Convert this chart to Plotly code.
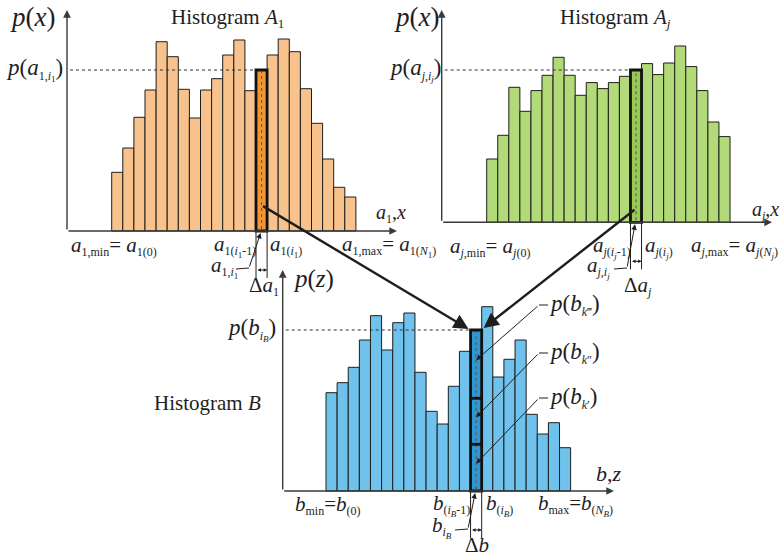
import plotly.graph_objects as go

W, H = 781, 556

# ---------------- data ----------------
bins = list(range(1, 23))
a1_values = [58.7, 83, 113.7, 141, 189.3, 174.3, 141.7, 113, 141, 152.3, 176,
             191, 140.3, 161, 176, 192, 179.3, 142.3, 107.7, 72, 43.7, 34]
aj_values = [63.3, 87, 135, 111, 131.7, 147, 165, 147, 127, 139.7, 133.7,
             139.7, 146, 152.3, 158.7, 147.7, 159.3, 176.3, 155.7, 131.7, 100.3, 85.7]
b_values = [98.3, 108.3, 123.7, 151, 175.3, 141, 168.3, 178, 118.7, 79.7, 67,
            104.7, 139.7, 161, 184.3, 114, 131.7, 151, 76.7, 57, 68.3, 43.3]
sel_bin = 14                      # highlighted bin (i1, ij, iB)
b_split_levels = [46.7, 92.7]     # partition of the highlighted B bin (k', k'', k''')

a1_color, a1_sel_color = "#F8C28C", "#F09634"
aj_color, aj_sel_color = "#B3DA78", "#98CB55"
b_color, b_sel_color = "#6FC2EC", "#2C97D3"

FONT = "Liberation Serif, Times New Roman, serif"
INK = "#1e1e1e"
AX = "#3a3a3a"

# ---------------- panel geometry (pixels) ----------------
G = {
    "A1": dict(L=111.7, bw=11.1, base=231.0, ox=67.0, ytop=10.0, xend=397.0, n=""),
    "Aj": dict(L=486.7, bw=11.06, base=222.3, ox=441.7, ytop=10.0, xend=772.0, n="2"),
    "B": dict(L=326.0, bw=11.12, base=491.0, ox=282.7, ytop=270.0, xend=614.0, n="3"),
}


def dx(g, px):
    return 0.5 + (px - g["L"]) / g["bw"]


def px_of(g, x):
    return g["L"] + (x - 0.5) * g["bw"]


def py_of(g, y):
    return g["base"] - y


def P(px, py):
    return px / W, 1 - py / H


fig = go.Figure()
shapes, annos = [], []

panels = [("A1", a1_values, a1_color, a1_sel_color),
          ("Aj", aj_values, aj_color, aj_sel_color),
          ("B", b_values, b_color, b_sel_color)]

layout_axes = {}
for key, vals, col, scol in panels:
    g = G[key]
    n = g["n"]
    xa, ya = "x" + n, "y" + n
    fig.add_trace(go.Bar(
        x=bins, y=vals, width=1,
        marker=dict(color=[scol if b == sel_bin else col for b in bins],
                    line=dict(color=INK, width=1)),
        xaxis=xa, yaxis=ya, showlegend=False, hoverinfo="skip"))
    layout_axes["xaxis" + n] = dict(domain=[0, 1], range=[dx(g, 0), dx(g, W)],
                                    visible=False, anchor=ya, fixedrange=True)
    layout_axes["yaxis" + n] = dict(domain=[0, 1], range=[g["base"] - H, g["base"]],
                                    visible=False, anchor=xa, fixedrange=True)
    sv = vals[bins.index(sel_bin)]
    # highlighted bar outline
    shapes.append(dict(type="rect", xref=xa, yref=ya, x0=sel_bin - 0.5, x1=sel_bin + 0.5,
                       y0=0, y1=sv, line=dict(color="#111", width=2.8)))
    # dotted centre line in highlighted bar
    shapes.append(dict(type="line", xref=xa, yref=ya, x0=sel_bin, x1=sel_bin,
                       y0=2, y1=sv - 2, line=dict(color="#555", width=1, dash="dot")))
    # dotted level line
    shapes.append(dict(type="line", xref=xa, yref=ya, x0=dx(g, g["ox"] + 3), x1=sel_bin - 0.5,
                       y0=sv, y1=sv, line=dict(color="#333", width=1, dash="dot")))
    # dimension extension lines (bin width)
    for e in (sel_bin - 0.5, sel_bin + 0.5):
        shapes.append(dict(type="line", xref=xa, yref=ya, x0=e, x1=e,
                           y0=0, y1=-47, line=dict(color=INK, width=1)))
    # axes with arrowheads
    ox, base = g["ox"], g["base"]
    for (hx, hy, tx, ty) in [(ox, g["ytop"], ox, base), (g["xend"], base, ox, base)]:
        x1, y1 = P(hx, hy)
        annos.append(dict(x=x1, y=y1, xref="paper", yref="paper", axref="pixel", ayref="pixel",
                          ax=tx - hx, ay=ty - hy, text="", showarrow=True, arrowhead=2,
                          arrowsize=1.1, arrowwidth=1.4, arrowcolor=AX, standoff=0))
    # double-headed bin width arrow
    lx, rx = px_of(g, sel_bin - 0.5), px_of(g, sel_bin + 0.5)
    yy = base + 39
    x1, y1 = P(rx, yy)
    annos.append(dict(x=x1, y=y1, xref="paper", yref="paper", axref="pixel", ayref="pixel",
                      ax=lx - rx, ay=0, text="", showarrow=True, arrowhead=2, startarrowhead=2,
                      arrowside="end+start", arrowsize=0.7, arrowwidth=1, arrowcolor=INK,
                      standoff=0, startstandoff=0))

# B partition lines inside the highlighted bin
gB = G["B"]
for lvl in b_split_levels:
    shapes.append(dict(type="line", xref="x3", yref="y3", x0=sel_bin - 0.5, x1=sel_bin + 0.5,
                       y0=lvl, y1=lvl, line=dict(color="#111", width=2.8)))


def arrow(tx, ty, hx, hy, width=1.0, size=1.2, head=2, color=INK):
    x1, y1 = P(hx, hy)
    annos.append(dict(x=x1, y=y1, xref="paper", yref="paper", axref="pixel", ayref="pixel",
                      ax=tx - hx, ay=ty - hy, text="", showarrow=True, arrowhead=head,
                      arrowsize=size, arrowwidth=width, arrowcolor=color, standoff=0))


def seg(x0, y0, x1, y1, width=1.0, color=INK):
    a, b = P(x0, y0)
    c, d = P(x1, y1)
    shapes.append(dict(type="line", xref="paper", yref="paper", x0=a, y0=b, x1=c, y1=d,
                       line=dict(color=color, width=width)))


# big arrows from A1 and Aj highlighted bins into the B bin
gA1, gAj = G["A1"], G["Aj"]
a1_sel = a1_values[bins.index(sel_bin)]
aj_sel = aj_values[bins.index(sel_bin)]
b_sel = b_values[bins.index(sel_bin)]
arrow(px_of(gA1, sel_bin), py_of(gA1, 0.16 * a1_sel),
      px_of(gB, sel_bin - 0.5) - 2, py_of(gB, b_sel) - 1, width=2.4, size=1.25)
arrow(px_of(gAj, sel_bin), py_of(gAj, 0.09 * aj_sel),
      px_of(gB, sel_bin + 0.5) + 2, py_of(gB, b_sel) - 2, width=2.4, size=1.25)

# leader arrows for bin labels a_{1,i1}, a_{j,ij}, b_{iB}
for g, lx0, ly0 in [(gA1, 236, 269), (gAj, 614, 269), (gB, 455, 530)]:
    cx = px_of(g, sel_bin) - 1
    seg(lx0, ly0, lx0 + 13, ly0 - 1)
    arrow(lx0 + 13, ly0 - 1, cx, g["base"] + 2, width=1, size=1.1)

# p(b_k) leader arrows
tops = [0] + b_split_levels + [b_sel]
mids = [(tops[i] + tops[i + 1]) / 2 + 4 for i in range(3)]
label_y = [398, 353, 305]
for my, ly in zip(mids, label_y):
    seg(548, ly, 539, ly)
    arrow(539, ly, px_of(gB, sel_bin), py_of(gB, my), width=1, size=1.1)


def T(text, px, py, anchor="left", size=20):
    x, y = P(px, py)
    annos.append(dict(x=x, y=y, xref="paper", yref="paper", text=text, showarrow=False,
                      xanchor=anchor, yanchor="middle",
                      font=dict(family=FONT, size=size, color=INK)))


def I(s):
    return "<i>" + s + "</i>"


def S(s, px=12):
    return '<sub><span style="font-size:%dpx">%s</span></sub>' % (px, s)


def s2(s):
    # second-level subscript
    return '<sub><span style="font-size:9px">%s</span></sub>' % s


# ---- Histogram A1 texts ----
T(I("p") + "(" + I("x") + ")", 8, 17, size=27)
T("Histogram " + I("A") + S("1", 13), 227, 18, "center", size=21)
T(I("p") + "(" + I("a") + S("1," + I("i") + s2("1")) + ")", 65, 69, "right", size=23)
T(I("a") + S("1,min") + "= " + I("a") + S("1(0)"), 69, 246, size=21)
T(I("a") + S("1(" + I("i") + s2("1") + "-1)"), 212, 246, size=21)
T(I("a") + S("1(" + I("i") + s2("1") + ")"), 268, 246, size=21)
T(I("a") + S("1,max") + "= " + I("a") + S("1(" + I("N") + s2("1") + ")"), 340, 246, size=21)
T(I("a") + S("1," + I("i") + s2("1")), 209, 267, size=21)
T("Δ" + I("a") + S("1"), px_of(gA1, sel_bin) + 2, 286, "center", size=21)
T(I("a") + S("1") + "," + I("x"), 374, 213, size=20)

# ---- Histogram Aj texts ----
T(I("p") + "(" + I("x") + ")", 392, 17, size=27)
T("Histogram " + I("A") + S(I("j"), 13), 615, 18, "center", size=21)
T(I("p") + "(" + I("a") + S(I("j,i") + s2(I("j"))) + ")", 444, 69, "right", size=23)
T(I("a") + S(I("j") + ",min") + "= " + I("a") + S(I("j") + "(0)"), 448, 247, size=21)
T(I("a") + S(I("j") + "(" + I("i") + s2(I("j")) + "-1)"), 591, 247, size=21)
T(I("a") + S(I("j") + "(" + I("i") + s2(I("j")) + ")"), 643, 247, size=21)
T(I("a") + S(I("j") + ",max") + "= " + I("a") + S(I("j") + "(" + I("N") + s2(I("j")) + ")"), 689, 247, size=21)
T(I("a") + S(I("j,i") + s2(I("j"))), 585, 267, size=21)
T("Δ" + I("a") + S(I("j")), px_of(gAj, sel_bin) + 2, 286, "center", size=21)
T(I("a") + S(I("j")) + "," + I("x"), 750, 210, size=20)

# ---- Histogram B texts ----
T(I("p") + "(" + I("z") + ")", 291, 279, size=25)
T(I("p") + "(" + I("b") + S(I("i") + s2(I("B"))) + ")", 278, 329, "right", size=23)
T("Histogram " + I("B"), 152, 403, size=21)
T(I("b") + "," + I("z"), 594, 473, size=22)
T(I("b") + S("min") + "=" + I("b") + S("(0)"), 293, 505, size=21)
T(I("b") + S("(" + I("i") + s2(I("B")) + "-1)"), 431, 505, size=21)
T(I("b") + S("(" + I("i") + s2(I("B")) + ")"), 484, 505, size=21)
T(I("b") + S("max") + "=" + I("b") + S("(" + I("N") + s2(I("B")) + ")"), 536, 505, size=21)
T(I("b") + S(I("i") + s2(I("B"))), 430, 527, size=21)
T("Δ" + I("b"), px_of(gB, sel_bin) + 1, 545, "center", size=21)
T(I("p") + "(" + I("b") + S(I("k") + "‴") + ")", 547, 305, size=23)
T(I("p") + "(" + I("b") + S(I("k") + "″") + ")", 547, 353, size=23)
T(I("p") + "(" + I("b") + S(I("k") + "′") + ")", 547, 398, size=23)

fig.update_layout(
    width=W, height=H, autosize=False,
    margin=dict(l=0, r=0, t=0, b=0, pad=0),
    paper_bgcolor="white", plot_bgcolor="rgba(0,0,0,0)",
    barmode="overlay", shapes=shapes, annotations=annos, showlegend=False,
    **layout_axes,
)

fig.write_html("out.html", config={"displayModeBar": False, "staticPlot": True},
               post_script="document.body.style.margin='0';document.body.style.overflow='hidden';")
